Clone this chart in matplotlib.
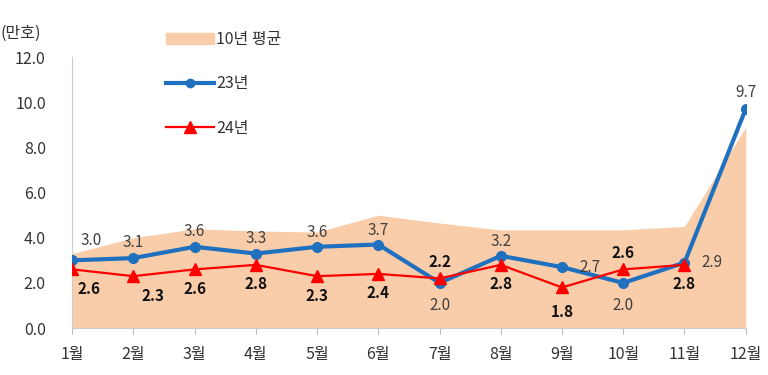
import numpy as np
import matplotlib
matplotlib.use("Agg")
import matplotlib.pyplot as plt
from matplotlib.patches import Patch
from matplotlib.lines import Line2D

plt.rcParams['font.family'] = ['Noto Sans CJK KR', 'DejaVu Sans']

months = ["1월", "2월", "3월", "4월", "5월", "6월", "7월", "8월", "9월", "10월", "11월", "12월"]
avg10 = [3.3, 4.0, 4.4, 4.3, 4.25, 5.0, 4.65, 4.35, 4.35, 4.35, 4.5, 8.9]
y23 = [3.0, 3.1, 3.6, 3.3, 3.6, 3.7, 2.0, 3.2, 2.7, 2.0, 2.9, 9.7]
y24 = [2.6, 2.3, 2.6, 2.8, 2.3, 2.4, 2.2, 2.8, 1.8, 2.6, 2.8]

# label offsets (points) for each data label
off23 = [(14, 14), (0, 11), (0, 11), (0, 11), (0, 10), (0, 10),
         (0, -16), (0, 10), (20, 0), (0, -16), (20, 0), (0, 12)]
off24 = [(12, -14), (14, -14), (0, -14), (0, -14), (0, -14), (0, -14),
         (0, 12), (0, -14), (0, -18), (0, 12), (0, -14)]

fig = plt.figure(figsize=(7.68, 3.75), dpi=100)
ax = fig.add_axes([0.094, 0.125, 0.877, 0.723])

x = np.arange(len(months))
ax.fill_between(x, 0, avg10, color="#F9CDAA", lw=0, zorder=1)
ax.plot(x, y23, color="#1F71BF", lw=3, marker="o", ms=7, zorder=3)
ax.plot(x[:len(y24)], y24, color="#FF0000", lw=1.6, marker="^", ms=9, zorder=4)

for i, v in enumerate(y23):
    ax.annotate("%.1f" % v, (x[i], v), xytext=off23[i], textcoords="offset points",
                ha="center", va="center", fontsize=11, color="#404040", zorder=5)
for i, v in enumerate(y24):
    ax.annotate("%.1f" % v, (x[i], v), xytext=off24[i], textcoords="offset points",
                ha="center", va="center", fontsize=11, fontweight="bold",
                color="#111111", zorder=5)

ax.set_xlim(0, 11)
ax.set_ylim(0, 12)
ax.set_xticks(x)
ax.set_xticklabels(months, fontsize=11.5, color="#333333")
ax.set_yticks(np.arange(0, 13, 2))
ax.set_yticklabels(["%.1f" % t for t in np.arange(0, 13, 2)], fontsize=11.5, color="#333333")
ax.tick_params(axis="y", length=0, pad=19)
ax.tick_params(axis="x", length=4, color="#BBBBBB", pad=9)
for s in ["top", "right"]:
    ax.spines[s].set_visible(False)
ax.spines["left"].set_color("#CCCCCC")
ax.spines["bottom"].set_color("#CCCCCC")

fig.text(0.0, 0.91, "(만호)", fontsize=11.5, color="#333333", va="center", ha="left")

handles = [Patch(color="#F9CDAA"),
           Line2D([], [], color="#1F71BF", lw=3, marker="o", ms=6),
           Line2D([], [], color="#FF0000", lw=1.6, marker="^", ms=8)]
labels = ["10년 평균", "23년", "24년"]
fig.legend(handles, labels, loc="upper left", bbox_to_anchor=(0.198, 0.955),
           frameon=False, fontsize=11.5, labelspacing=1.7, handlelength=3,
           handletextpad=0.1, labelcolor="#333333")

fig.savefig("out.png", dpi=100)
